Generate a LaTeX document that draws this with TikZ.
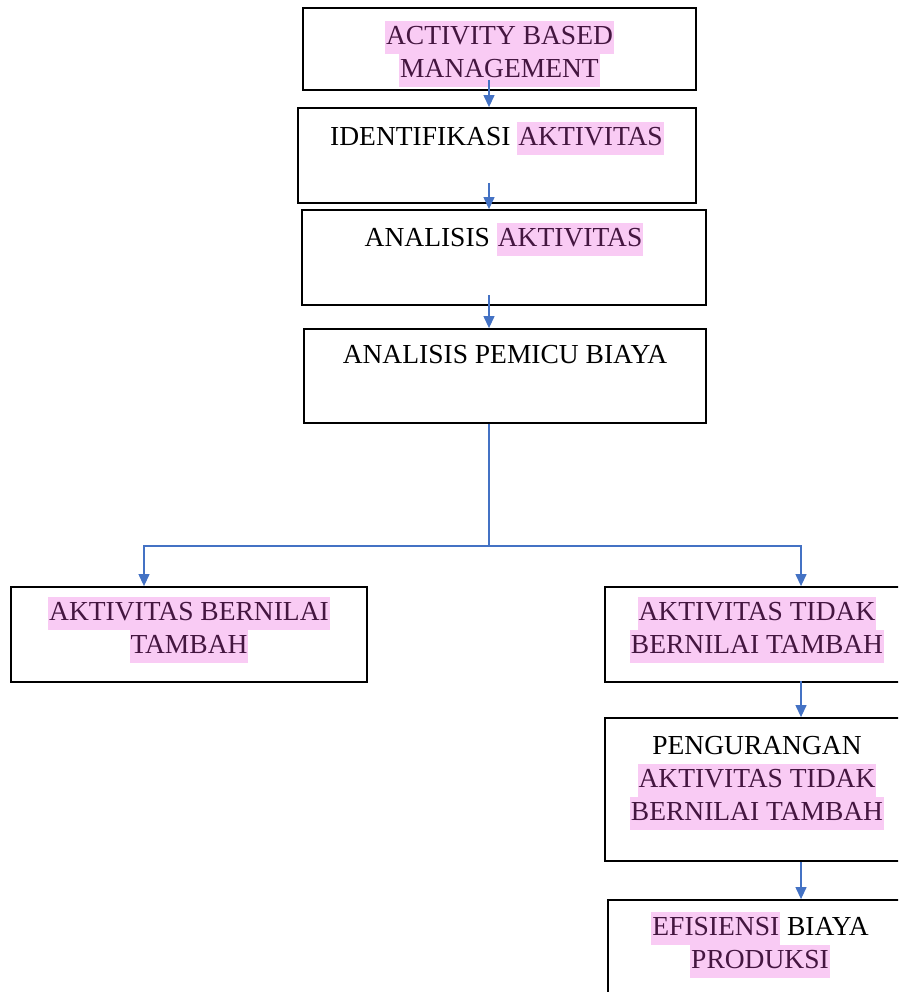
\documentclass[tikz,border=0pt]{standalone}
\usepackage{xcolor}
\usepackage{fontspec}
\setmainfont{Liberation Serif}
\usepackage{tikz}
\usetikzlibrary{shapes, arrows.meta}

\definecolor{hlpink}{RGB}{249,203,244}
\definecolor{hltext}{RGB}{68,22,64}
\definecolor{arrowblue}{RGB}{68,114,196}
\setlength{\fboxsep}{0pt}
\newcommand{\hlt}[1]{\colorbox{hlpink}{\strut\kern1pt\textcolor{hltext}{#1}\kern1pt}}

\begin{document}
\begin{tikzpicture}[x=1pt,y=1pt,>={Triangle[width=11pt,length=12pt]},
      box node/.style={rectangle,draw,line width=1.8pt,inner sep=0pt},
      text node/.style={anchor=north,align=center,inner sep=0pt,font=\fontsize{27.5}{33}\selectfont},
      link/.style={draw=arrowblue,line width=1.2pt}]

    \clip (0,0) rectangle (898,-992);

    \node[box node, minimum width=393pt, minimum height=82pt] (1) at (499.5,-49) {};
    \node[box node, minimum width=398pt, minimum height=95pt] (2) at (497,-155.5) {};
    \node[box node, minimum width=404pt, minimum height=95pt] (3) at (504,-257.5) {};
    \node[box node, minimum width=402pt, minimum height=94pt] (4) at (505,-376) {};
    \node[box node, minimum width=356pt, minimum height=95pt] (5) at (189,-634.5) {};
    \node[box node, minimum width=304pt, minimum height=95pt] (6) at (757,-634.5) {};
    \node[box node, minimum width=304pt, minimum height=143pt] (7) at (757,-789.5) {};
    \node[box node, minimum width=304pt, minimum height=100pt] (8) at (760,-950) {};

    \node[text node] (t1) at ([yshift=-14pt]1.north) {\hlt{ACTIVITY BASED}\\\hlt{MANAGEMENT}};
    \node[text node] (t2) at ([yshift=-15pt]2.north) {IDENTIFIKASI \hlt{AKTIVITAS}};
    \node[text node] (t3) at ([yshift=-14pt]3.north) {ANALISIS \hlt{AKTIVITAS}};
    \node[text node] (t4) at ([yshift=-12pt]4.north) {\strut ANALISIS PEMICU BIAYA};
    \node[text node] (t5) at ([yshift=-11pt]5.north) {\hlt{AKTIVITAS BERNILAI}\\\hlt{TAMBAH}};
    \node[text node] (t6) at ([yshift=-11pt]6.north) {\hlt{AKTIVITAS TIDAK}\\\hlt{BERNILAI TAMBAH}};
    \node[text node] (t7) at ([yshift=-14pt]7.north) {\strut PENGURANGAN\\\hlt{AKTIVITAS TIDAK}\\\hlt{BERNILAI TAMBAH}};
    \node[text node] (t8) at ([yshift=-13pt]8.north) {\hlt{EFISIENSI} BIAYA\\\hlt{PRODUKSI}};

    % arrow starts and fork points
    \coordinate (s1) at (489,-80);
    \coordinate (s2) at (489,-183);
    \coordinate (s3) at (489,-295);
    \coordinate (fork) at (489,-546);
    \coordinate (forkL) at (144,-546);
    \coordinate (forkR) at (801,-546);

    \draw[link,->] (s1) -- (s1 |- 2.north);
    \draw[link,->] (s2) -- (s2 |- 3.north);
    \draw[link,->] (s3) -- (s3 |- 4.north);
    \draw[link] (4.south -| fork) -- (fork);
    \draw[link,->] (fork) -- (forkL) -- (forkL |- 5.north);
    \draw[link,->] (fork) -- (forkR) -- (forkR |- 6.north);
    \draw[link,->] ([yshift=2pt]6.south -| forkR) -- (7.north -| forkR);
    \draw[link,->] (7.south -| forkR) -- (8.north -| forkR);
\end{tikzpicture}
\end{document}
